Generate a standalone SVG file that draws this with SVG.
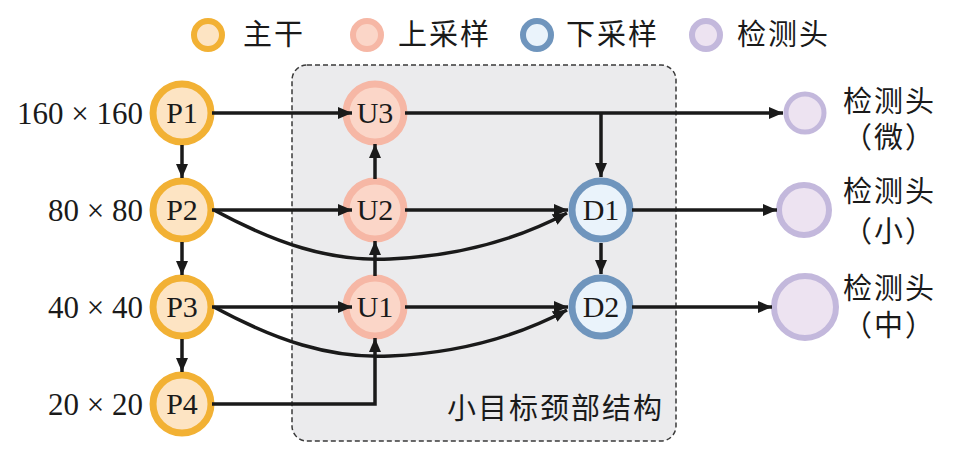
<svg xmlns="http://www.w3.org/2000/svg" width="953" height="453" viewBox="0 0 953 453">
<style>
.bb{fill:#fde4c3;stroke:#f2b134;stroke-width:7}
.up{fill:#fbd6c8;stroke:#f6b7a5;stroke-width:7}
.dn{fill:#eaf3fb;stroke:#6f95bd;stroke-width:7}
.hd{fill:#ede3f1;stroke:#c3b8dc;stroke-width:6}
.lat{font-family:"Liberation Serif","Times New Roman",serif;font-size:30px;fill:#1a1a1a}
.sz{font-family:"Liberation Serif","Times New Roman",serif;font-size:31px;fill:#1a1a1a}
.cjk{font-family:"Noto Sans CJK SC","Noto Sans",sans-serif;font-size:29px;fill:#1a1a1a;letter-spacing:2px}
.c{stroke:#1a1a1a;stroke-width:3.5;fill:none;marker-end:url(#ah)}
</style>
<defs>
<marker id="ah" markerUnits="userSpaceOnUse" markerWidth="16" markerHeight="14" refX="14" refY="6" orient="auto">
<path d="M0,0 L14,6 L0,12 Z" fill="#1a1a1a"/>
</marker>
</defs>
<rect width="953" height="453" fill="#ffffff"/>

<g id="legend">
<circle class="bb" cx="208" cy="35" r="14" style="stroke-width:6"/>
<text class="cjk" x="243" y="45">主干</text>
<circle class="up" cx="367" cy="35" r="14" style="stroke-width:6"/>
<text class="cjk" x="398" y="45">上采样</text>
<circle class="dn" cx="537" cy="35" r="14" style="stroke-width:6"/>
<text class="cjk" x="566" y="45">下采样</text>
<circle class="hd" cx="706" cy="35" r="14"/>
<text class="cjk" x="737" y="45">检测头</text>
</g>

<g id="neck">
<rect x="292" y="65" width="384" height="376" rx="15" ry="15" fill="#ebebed" stroke="#3a3a3a" stroke-width="1.5" stroke-dasharray="5,3"/>
<text class="cjk" x="447" y="419">小目标颈部结构</text>
</g>

<g id="scale-labels" class="sz" text-anchor="end">
<text x="143" y="124">160 × 160</text>
<text x="143" y="221">80 × 80</text>
<text x="143" y="318">40 × 40</text>
<text x="143" y="415">20 × 20</text>
</g>

<g id="P1"><circle class="bb" cx="182" cy="113" r="29"/><text class="lat" x="182" y="123" text-anchor="middle">P1</text></g>
<g id="P2"><circle class="bb" cx="182" cy="210" r="29"/><text class="lat" x="182" y="220" text-anchor="middle">P2</text></g>
<g id="P3"><circle class="bb" cx="182" cy="307" r="29"/><text class="lat" x="182" y="317" text-anchor="middle">P3</text></g>
<g id="P4"><circle class="bb" cx="182" cy="404" r="29"/><text class="lat" x="182" y="414" text-anchor="middle">P4</text></g>

<g id="U3"><circle class="up" cx="375" cy="113" r="29"/><text class="lat" x="375" y="123" text-anchor="middle">U3</text></g>
<g id="U2"><circle class="up" cx="375" cy="210" r="29"/><text class="lat" x="375" y="220" text-anchor="middle">U2</text></g>
<g id="U1"><circle class="up" cx="375" cy="307" r="29"/><text class="lat" x="375" y="317" text-anchor="middle">U1</text></g>

<g id="D1"><circle class="dn" cx="601" cy="210" r="29"/><text class="lat" x="601" y="220" text-anchor="middle">D1</text></g>
<g id="D2"><circle class="dn" cx="601" cy="307" r="29"/><text class="lat" x="601" y="317" text-anchor="middle">D2</text></g>

<g id="H-tiny"><circle class="hd" cx="805" cy="113" r="19" style="stroke-width:5"/>
<text class="cjk" x="843" y="112">检测头</text><text class="cjk" x="843" y="148">（微）</text></g>
<g id="H-small"><circle class="hd" cx="804" cy="210" r="25"/>
<text class="cjk" x="843" y="202">检测头</text><text class="cjk" x="843" y="242">（小）</text></g>
<g id="H-medium"><circle class="hd" cx="805" cy="307" r="31"/>
<text class="cjk" x="843" y="299">检测头</text><text class="cjk" x="843" y="336">（中）</text></g>

<g id="connectors">
<path class="c" d="M182 145 V178"/>
<path class="c" d="M182 242 V275"/>
<path class="c" d="M182 339 V372"/>
<path class="c" d="M212 113 H352"/>
<path class="c" d="M212 210 H352"/>
<path class="c" d="M212 307 H352"/>
<path class="c" d="M212 404 H375 V338"/>
<path class="c" d="M375 276 V241"/>
<path class="c" d="M375 179 V144"/>
<path class="c" d="M405 113 H783"/>
<path class="c" d="M601 113 V177"/>
<path class="c" d="M405 210 H568"/>
<path class="c" d="M405 307 H568"/>
<path class="c" d="M214 210 C275 243 330 262 390 259 C460 256 520 238 567 213"/>
<path class="c" d="M214 307 C275 340 330 359 390 356 C460 353 520 335 567 310"/>
<path class="c" d="M601 243 V274"/>
<path class="c" d="M632 210 H777"/>
<path class="c" d="M632 307 H772"/>
</g>
</svg>
